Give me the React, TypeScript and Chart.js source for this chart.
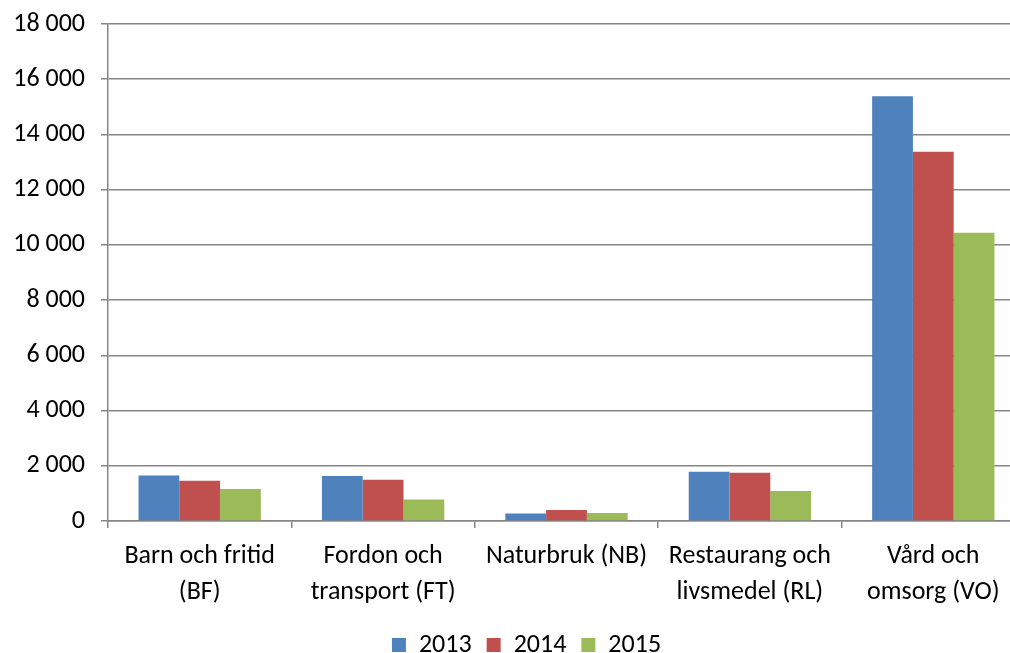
import React, { useEffect, useRef } from "react";
import { Chart, registerables } from "chart.js";

Chart.register(...registerables);

const categories: string[][] = [
  ["Barn och fritid", "(BF)"],
  ["Fordon och", "transport (FT)"],
  ["Naturbruk (NB)"],
  ["Restaurang och", "livsmedel (RL)"],
  ["Vård och", "omsorg (VO)"],
];
const years = ["2013", "2014", "2015"];
const values2013 = [1650, 1630, 270, 1780, 15380];
const values2014 = [1460, 1490, 400, 1745, 13370];
const values2015 = [1160, 780, 290, 1085, 10440];
const colors = ["#4F81BD", "#C0504D", "#9BBB59"];

const FONT = "Carlito, Lato, 'Liberation Sans', sans-serif";

const legendShift = {
  id: "legendShift",
  afterLayout(chart: any) {
    const lg = chart.legend;
    if (lg) {
      lg.left += 14;
      lg.right += 14;
    }
  },
};

export default function App() {
  const ref = useRef<HTMLCanvasElement | null>(null);
  useEffect(() => {
    if (!ref.current) return;
    const series = [values2013, values2014, values2015];
    const chart = new Chart(ref.current, {
      type: "bar",
      data: {
        labels: categories,
        datasets: years.map((y, i) => ({
          label: y,
          data: series[i],
          backgroundColor: colors[i],
          borderWidth: 0,
          categoryPercentage: 0.667,
          barPercentage: 1.0,
        })),
      },
      plugins: [legendShift],
      options: {
        animation: false,
        responsive: false,
        maintainAspectRatio: false,
        layout: { padding: { left: 0, right: 0, top: 24, bottom: -15 } },
        plugins: {
          tooltip: { enabled: false },
          legend: {
            position: "bottom",
            labels: {
              boxWidth: 14,
              boxHeight: 14,
              color: "#000",
              padding: 15,
              font: { family: FONT, size: 26 },
            },
          },
        },
        scales: {
          x: {
            offset: true,
            grid: {
              display: true,
              offset: true,
              drawOnChartArea: false,
              drawTicks: true,
              tickLength: 7,
              color: "#868686",
              lineWidth: 1.5,
            },
            border: { display: true, color: "#868686", width: 1.5 },
            ticks: {
              color: "#000",
              font: { family: FONT, size: 26, lineHeight: 1.38 },
              maxRotation: 0,
              autoSkip: false,
              padding: 11,
            },
            afterFit: (s: any) => {
              s.height = 96;
            },
          },
          y: {
            min: 0,
            max: 18000,
            ticks: {
              stepSize: 2000,
              color: "#000",
              font: { family: FONT, size: 26, lineHeight: 0.5 },
              padding: 16,
              callback: (v: any) =>
                Number(v)
                  .toString()
                  .replace(/\B(?=(\d{3})+(?!\d))/g, " "),
            },
            grid: {
              color: "#868686",
              lineWidth: 1.5,
              drawTicks: true,
              tickLength: 7,
            },
            border: { display: true, color: "#868686", width: 1.5 },
            afterFit: (s: any) => {
              s.width = 108;
            },
          },
        },
      },
    });
    return () => chart.destroy();
  }, []);
  return (
    <div
      style={{
        position: "fixed",
        left: 0,
        top: 0,
        width: 1010,
        height: 653,
        overflow: "hidden",
        background: "#fff",
      }}
    >
      <canvas ref={ref} width={1025} height={653} style={{ width: 1025, height: 653, display: "block" }} />
    </div>
  );
}
